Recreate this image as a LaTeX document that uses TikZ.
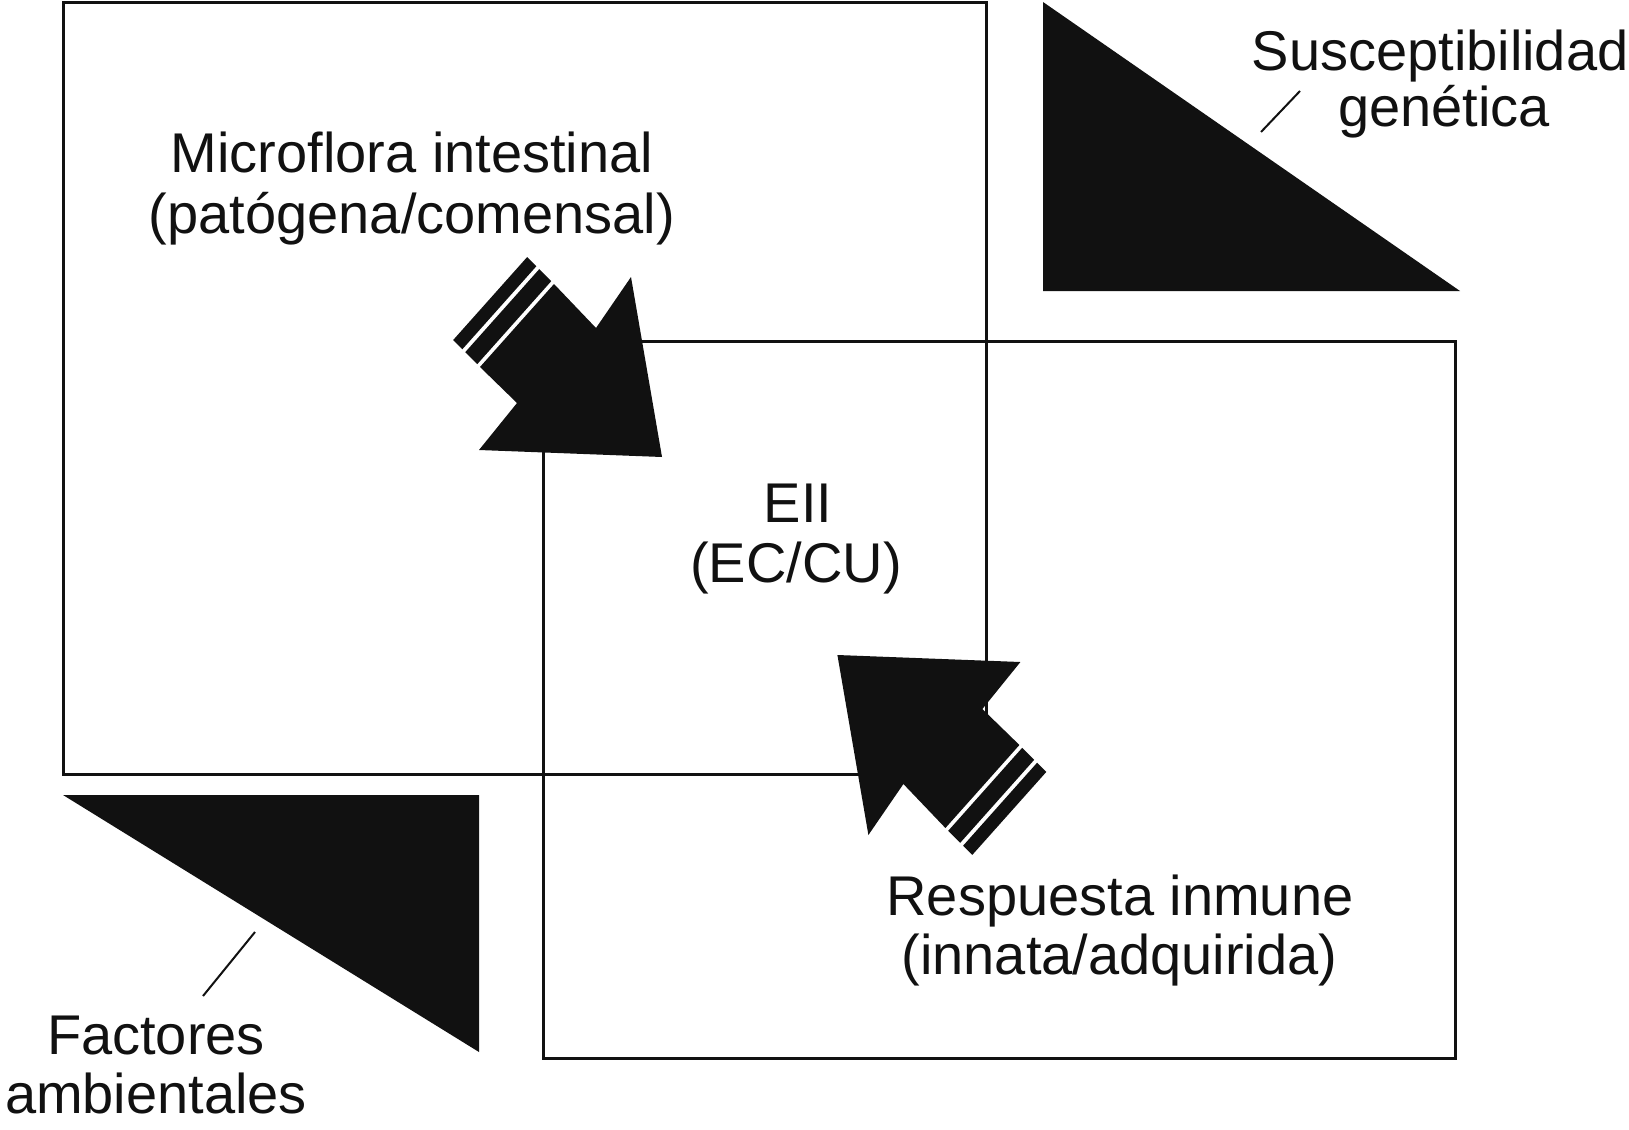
\documentclass[tikz,border=0pt]{standalone}
\usepackage{fontspec}
\setmainfont{Liberation Sans}
\definecolor{ink}{HTML}{111111}
\tikzset{
  frame/.style={draw=ink, line width=3pt},
  blackfill/.style={fill=ink, draw=none},
  lbl/.style={anchor=base, inner sep=0pt, text=ink, font=\fontsize{56}{60}\selectfont},
  leader/.style={draw=ink, line width=2pt},
  ibdarrow/.pic={
    \fill[ink] (631,277) -- (662,457) -- (479,450) -- (517,403) -- (480,367) -- (554,284) -- (596,328) -- cycle;
    % wide band: 4..21 behind shaft end
    \fill[ink] (551.2,281.2) -- (477.2,364.2) -- (465.2,352.2) -- (539.2,269.2) -- cycle;
    % narrow band: 25..38 behind shaft end
    \fill[ink] (536.3,266.3) -- (462.3,349.3) -- (453.1,340.1) -- (527.1,257.1) -- cycle;
  }
}
\begin{document}
\begin{tikzpicture}[x=1pt,y=-1pt]
\useasboundingbox (0,0) rectangle (1629,1129);
\fill[white] (0,0) rectangle (1629,1129);
% boxes
\draw[frame] (63,2.5) rectangle (986,774);
\draw[frame] (543,341.5) rectangle (1455,1058);
% triangles
\fill[blackfill] (1043,2) -- (1043,291) -- (1460,291) -- cycle;
\fill[blackfill] (63,795) -- (479,795) -- (479,1052) -- cycle;
% arrows
\pic at (0,0) {ibdarrow};
\pic[rotate=180] at (1499.4,1112) {ibdarrow};
% labels
\node[lbl] (micro1) at (412,172.6) {Microflora intestinal};
\node[lbl] (micro2) at (412,233) {(patógena/comensal)};
\node[lbl] (eii1) at (798,522) {EII};
\node[lbl] (eii2) at (796,582) {(EC/CU)};
\node[lbl] (resp1) at (1120,915) {Respuesta inmune};
\node[lbl] (resp2) at (1119.5,974.5) {(innata/adquirida)};
\node[lbl] (sus1) at (1440,70.7) {Susceptibilidad};
\node[lbl] (sus2) at (1444,127) {genética};
\node[lbl] (fac1) at (156,1054) {Factores};
\node[lbl] (fac2) at (156,1113) {ambientales};
% leader lines
\coordinate (sgA) at (1261,132);
\coordinate (sgB) at (1300,91);
\draw[leader] (sgA) -- (sgB);
\coordinate (faA) at (203,996);
\coordinate (faB) at (255,932);
\draw[leader] (faA) -- (faB);
\end{tikzpicture}
\end{document}
